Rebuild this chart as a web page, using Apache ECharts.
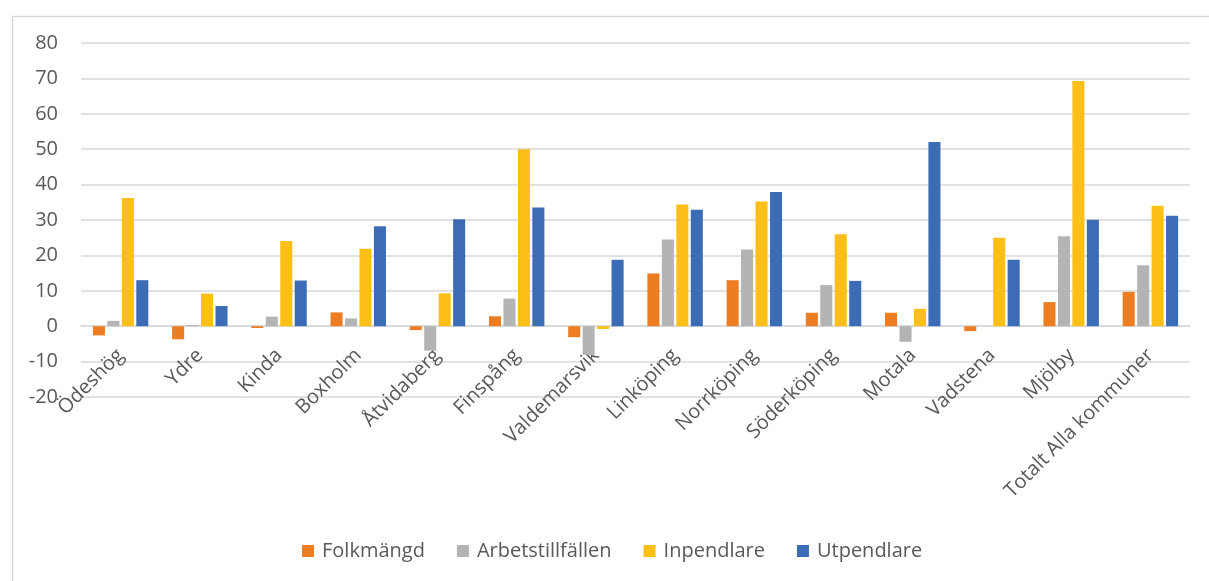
<!DOCTYPE html>
<html>
<head>
<meta charset="utf-8">
<script src="https://cdn.jsdelivr.net/npm/echarts@6/dist/echarts.min.js"></script>
<style>
  html, body { margin: 0; padding: 0; background: #fff; }
  #chart { width: 1209px; height: 581px; }
</style>
</head>
<body>
<div id="chart"></div>
<script>
// Municipalities (category axis)
const categories = ['Ödeshög', 'Ydre', 'Kinda', 'Boxholm', 'Åtvidaberg', 'Finspång', 'Valdemarsvik',
  'Linköping', 'Norrköping', 'Söderköping', 'Motala', 'Vadstena', 'Mjölby', 'Totalt Alla kommuner'];

// Series values, one per municipality
const folkmangd        = [-2.6, -3.7, -0.5, 3.9, -1.1, 2.8, -3.1, 14.9, 13.0, 3.8, 3.8, -1.4, 6.8, 9.7];
const arbetstillfallen = [1.5, 0.3, 2.7, 2.2, -6.9, 7.8, -8.1, 24.5, 21.7, 11.6, -4.4, 0, 25.4, 17.2];
const inpendlare       = [36.2, 9.2, 24.1, 21.9, 9.3, 50.0, -0.8, 34.4, 35.2, 26.0, 4.9, 25.0, 69.3, 34.0];
const utpendlare       = [13.0, 5.7, 12.9, 28.2, 30.2, 33.5, 18.8, 32.9, 37.9, 12.8, 52.0, 18.8, 30.1, 31.2];

// Value axis range
const yMin = -20, yMax = 80, yStep = 10;

const seriesNames = ['Folkmängd', 'Arbetstillfällen', 'Inpendlare', 'Utpendlare'];
const colors = ['#ED7D23', '#B4B4B4', '#FCBF17', '#3D6CB6'];

const FONT = '"Open Sans", "Noto Sans", sans-serif';
const TEXT = '#595959';
const GRID = '#D9D9D9';

const W = 1209, H = 581;
const gridBox = { left: 81, right: 19, top: 43, bottom: 184 };
// Category axis (line and labels) sits on the zero line of the value axis
const plotHeight = H - gridBox.top - gridBox.bottom;
const zeroOffset = -plotHeight * (0 - yMin) / (yMax - yMin);

const chart = echarts.init(document.getElementById('chart'), null, { renderer: 'canvas' });

const dataSets = [folkmangd, arbetstillfallen, inpendlare, utpendlare];

chart.setOption({
  animation: false,
  backgroundColor: '#fff',
  textStyle: { fontFamily: FONT },
  graphic: [{
    type: 'rect',
    left: 10, top: 14,
    shape: { width: 1400, height: 800 },
    style: { fill: 'none', stroke: GRID, lineWidth: 1.5 },
    silent: true
  }],
  grid: gridBox,
  legend: {
    left: 297, top: 536,
    itemWidth: 12, itemHeight: 12, itemGap: 32,
    icon: 'rect',
    textStyle: { color: TEXT, fontSize: 20, fontFamily: FONT, padding: [0, 0, 0, 3] },
    data: seriesNames
  },
  xAxis: {
    type: 'category',
    data: categories,
    offset: zeroOffset,
    z: 0,
    axisLine: { onZero: false, lineStyle: { color: GRID, width: 1.5 } },
    axisTick: { show: false },
    axisLabel: { rotate: 45, color: TEXT, fontSize: 20, fontFamily: FONT, margin: 26, interval: 0 }
  },
  yAxis: {
    type: 'value',
    min: yMin, max: yMax, interval: yStep,
    axisLine: { show: false },
    axisTick: { show: false },
    splitLine: { lineStyle: { color: GRID, width: 1.5 } },
    axisLabel: { color: TEXT, fontSize: 20, fontFamily: FONT, margin: 23 }
  },
  series: seriesNames.map((name, i) => ({
    name,
    type: 'bar',
    z: 3,
    data: dataSets[i],
    barGap: '20%',
    barCategoryGap: '30%',
    itemStyle: { color: colors[i] }
  }))
});
</script>
</body>
</html>
